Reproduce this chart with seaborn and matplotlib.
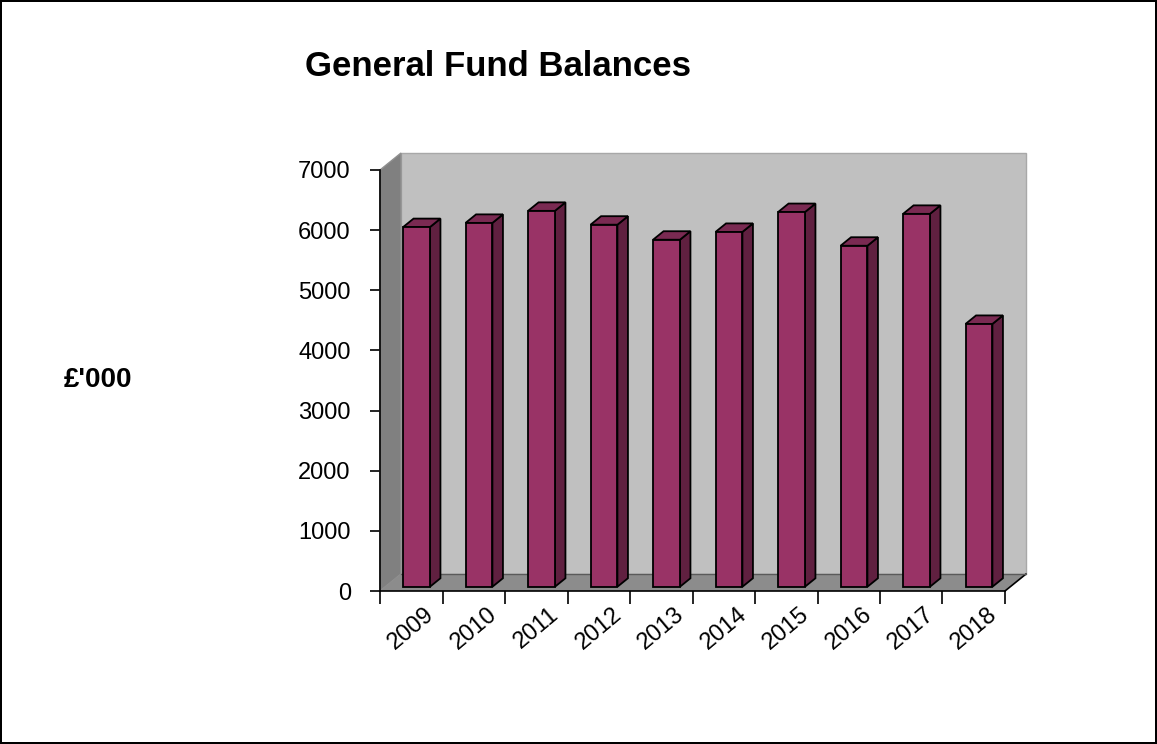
import matplotlib
matplotlib.use("Agg")
import matplotlib.pyplot as plt
import seaborn as sns
import pandas as pd
from matplotlib.patches import Polygon

years = ["2009", "2010", "2011", "2012", "2013", "2014", "2015", "2016", "2017", "2018"]
balances = [5980, 6050, 6250, 6020, 5770, 5900, 6230, 5670, 6200, 4370]
y_ticks = [0, 1000, 2000, 3000, 4000, 5000, 6000, 7000]

sns.set_theme(style="white")
plt.rcParams["font.family"] = ["Liberation Sans", "DejaVu Sans"]
plt.rcParams["text.color"] = "black"
plt.rcParams["xtick.color"] = "black"
plt.rcParams["ytick.color"] = "black"
plt.rcParams["axes.labelcolor"] = "black"

W, H = 1157, 744
fig = plt.figure(figsize=(W / 100, H / 100), dpi=100)
fig.patch.set_facecolor("white")
fig.patch.set_edgecolor("black")
fig.patch.set_linewidth(1.5)

ax = fig.add_axes([380 / W, (H - 591) / H, (1005 - 380) / W, (591 - 170) / H])
ax.set_facecolor("none")

df = pd.DataFrame({"year": years, "value": balances})
sns.barplot(data=df, x="year", y="value", ax=ax, width=0.43, color="#993366",
            saturation=1, edgecolor="black", linewidth=1.3, zorder=5)
bar_patches = list(ax.patches)

ax.set_xlim(-0.5, len(years) - 0.5)
ax.set_ylim(0, 7000)

# depth of the 3D box in data units
n = len(years)
px_per_cat = (1005 - 380) / n
px_per_val = (591 - 170) / 7000
DX = 21 / px_per_cat
DY = 17 / px_per_val

x0, x1 = -0.5, n - 0.5
# back wall
ax.add_patch(Polygon([(x0 + DX, DY), (x1 + DX, DY), (x1 + DX, 7000 + DY), (x0 + DX, 7000 + DY)],
                     closed=True, facecolor="#c0c0c0", edgecolor="#a8a8a8", lw=1,
                     clip_on=False, zorder=1))
# left wall
ax.add_patch(Polygon([(x0, 0), (x0 + DX, DY), (x0 + DX, 7000 + DY), (x0, 7000)],
                     closed=True, facecolor="#808080", edgecolor="#909090", lw=1,
                     clip_on=False, zorder=2))
# floor
ax.add_patch(Polygon([(x0, 0), (x1, 0), (x1 + DX, DY), (x0 + DX, DY)],
                     closed=True, facecolor="#8c8c8c", edgecolor="none", lw=0,
                     clip_on=False, zorder=2))
ax.plot([x1, x1 + DX], [0, DY], color="black", lw=1.2, clip_on=False, zorder=3)
ax.plot([x0 + DX, x1 + DX], [DY, DY], color="#5a5a5a", lw=1, clip_on=False, zorder=3)

# bars: shift front faces to a quarter of the depth and add side/top faces
fx, fy = 0.25 * DX, 0.25 * DY
bx, by = 0.5 * DX, 0.5 * DY
for p in bar_patches:
    x = p.get_x() + fx
    w = p.get_width()
    h = p.get_height()
    p.set_x(x)
    p.set_y(fy)
    top = fy + h
    ax.add_patch(Polygon([(x + w, fy), (x + w + bx, fy + by), (x + w + bx, top + by), (x + w, top)],
                         closed=True, facecolor="#602040", edgecolor="black", lw=1.3,
                         zorder=4, clip_on=False))
    ax.add_patch(Polygon([(x, top), (x + w, top), (x + w + bx, top + by), (x + bx, top + by)],
                         closed=True, facecolor="#7a2a52", edgecolor="black", lw=1.3,
                         zorder=4, clip_on=False))

for s in ["top", "right"]:
    ax.spines[s].set_visible(False)
for s in ["left", "bottom"]:
    ax.spines[s].set_color("black")
    ax.spines[s].set_linewidth(1.2)
    ax.spines[s].set_zorder(6)

ax.set_yticks(y_ticks)
ax.set_yticklabels([str(v) for v in y_ticks], fontsize=17)
ax.set_xticks([i - 0.5 for i in range(n + 1)], minor=False)
ax.set_xticklabels([""] * (n + 1))
ax.set_xticks(range(n), minor=True)
ax.set_xticklabels(years, minor=True, rotation=40, ha="center", va="top", fontsize=17)
ax.tick_params(axis="x", which="major", direction="out", length=9, width=1.2, color="black", bottom=True)
ax.tick_params(axis="x", which="minor", length=0, pad=9, bottom=True)
ax.tick_params(axis="y", direction="out", length=7, width=1.2, color="black", left=True, pad=14)
ax.set_xlabel("")
ax.set_ylabel("")

fig.text(498 / W, 1 - 76 / H, "General Fund Balances", fontsize=25, fontweight="bold",
         ha="center", va="baseline")
fig.text(97.5 / W, 1 - 387 / H, "£'000", fontsize=20, fontweight="bold", ha="center", va="baseline")

fig.savefig("out.png", dpi=100)
